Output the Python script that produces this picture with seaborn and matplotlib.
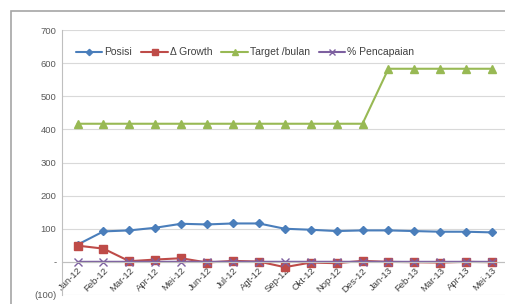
import numpy as np
import pandas as pd
import matplotlib
matplotlib.use('Agg')
import matplotlib.pyplot as plt
import seaborn as sns
from matplotlib.patches import Rectangle

months = ['Jan-12', 'Feb-12', 'Mar-12', 'Apr-12', 'Mei-12', 'Jun-12', 'Jul-12', 'Agt-12',
          'Sep-12', 'Okt-12', 'Nop-12', 'Des-12', 'Jan-13', 'Feb-13', 'Mar-13', 'Apr-13', 'Mei-13']
posisi = [52, 92, 95, 103, 115, 113, 116, 116, 100, 97, 93, 95, 95, 93, 91, 91, 89]
growth = [49, 40, 2, 7, 11, -2, 3, 1, -16, -2, -4, 3, 0, -1, -2, 0, -1]
target = [417, 417, 417, 417, 417, 417, 417, 417, 417, 417, 417, 417, 583, 583, 583, 583, 583]
pencapaian = [0.13, 0.22, 0.23, 0.25, 0.28, 0.27, 0.28, 0.28, 0.24, 0.23, 0.22, 0.23,
              0.16, 0.16, 0.16, 0.16, 0.15]

yticks = [-100, 0, 100, 200, 300, 400, 500, 600, 700]
ylabels = ['(100)', '-', '100', '200', '300', '400', '500', '600', '700']

series = {'Posisi': posisi, '\u0394 Growth': growth,
          'Target /bulan': target, '% Pencapaian': pencapaian}
styles = {'Posisi': ('#4A7EBB', 'D', 4),
          '\u0394 Growth': ('#BE4B48', 's', 6),
          'Target /bulan': ('#98B954', '^', 6),
          '% Pencapaian': ('#7D60A0', 'x', 6)}

rows = []
for name, vals in series.items():
    for i, v in enumerate(vals):
        rows.append([name, i, v])
df = pd.DataFrame(rows, columns=['series', 'x', 'value'])

sns.set_style('white')
plt.rcParams['font.family'] = ['Liberation Sans', 'DejaVu Sans']

fig = plt.figure(figsize=(5.06, 3.04), dpi=100)
ax = fig.add_axes([62 / 506, 1 - 295 / 304, (505 - 62) / 506, (295 - 30) / 304])

for name in series:
    color, marker, ms = styles[name]
    sub = df[df['series'] == name]
    sns.lineplot(data=sub, x='x', y='value', ax=ax, color=color, marker=marker,
                 markersize=ms, markeredgecolor=color, markeredgewidth=1,
                 linewidth=1.5, label=name)

# x axis crosses at zero, like the Excel chart
for s in ['top', 'right']:
    ax.spines[s].set_visible(False)
ax.spines['bottom'].set_position(('data', 0))
ax.spines['bottom'].set_color('#bfbfbf')
ax.spines['left'].set_color('#bfbfbf')

ax.set_xlim(-0.6, 16.5)
ax.set_ylim(-100, 700)
ax.set_yticks(yticks)
ax.set_yticklabels(ylabels)
ax.set_xticks(range(len(months)))
ax.set_xticklabels(months)
ax.set_xlabel('')
ax.set_ylabel('')
ax.yaxis.grid(True, color='#d9d9d9', linewidth=0.8)
ax.tick_params(axis='both', labelsize=6.8, colors='#595959', length=0, pad=4)
ax.tick_params(axis='x', pad=3)
plt.setp(ax.get_xticklabels(), rotation=45, ha='right', rotation_mode='anchor',
         color='#404040')

ax.legend(loc='upper left', bbox_to_anchor=(0.011, 0.97), ncol=4, frameon=False,
          fontsize=7.5, handlelength=2.5, columnspacing=0.9, handletextpad=0.2,
          labelcolor='#404040', markerscale=0.8)

fig.patches.append(Rectangle((11 / 506, -0.1), 2, (1 - 11 / 304) + 0.1,
                             transform=fig.transFigure, fill=False,
                             edgecolor='#a6a6a6', linewidth=1.2))

fig.savefig('out.png', dpi=100)
